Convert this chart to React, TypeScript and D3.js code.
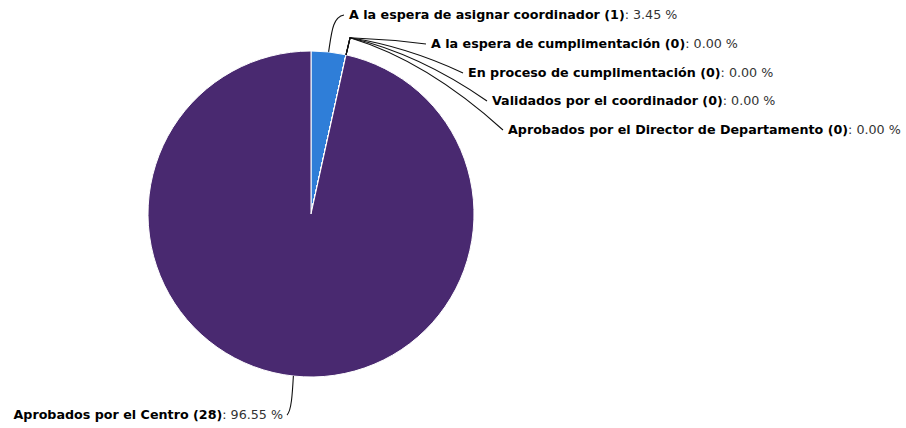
import React from "react";
import * as d3 from "d3";

const categories = [
  "A la espera de asignar coordinador",
  "A la espera de cumplimentación",
  "En proceso de cumplimentación",
  "Validados por el coordinador",
  "Aprobados por el Director de Departamento",
  "Aprobados por el Centro",
];
const counts = [1, 0, 0, 0, 0, 28];
const colors = ["#2f7ed8", "#0d233a", "#8bbc21", "#910000", "#1aadce", "#492970"];

// label layout (text anchor points)
const labelLayout = [
  { x: 349, y: 15, anchor: "start" },
  { x: 431, y: 44, anchor: "start" },
  { x: 468, y: 73, anchor: "start" },
  { x: 492, y: 101, anchor: "start" },
  { x: 508, y: 130, anchor: "start" },
  { x: 283, y: 415, anchor: "end" },
];

const W = 906;
const H = 428;
const cx = 311;
const cy = 214;
const R = 163;

export default function App() {
  const total = d3.sum(counts);
  const data = categories.map((c, i) => ({ name: c, value: counts[i], color: colors[i], i }));
  const pie = d3.pie<any>().value((d) => d.value).sort(null);
  const arcs = pie(data);
  const arc = d3.arc<any>().innerRadius(0).outerRadius(R);
  const font = "'DejaVu Sans', Verdana, sans-serif";

  const connectors = arcs.map((a, i) => {
    const mid = (a.startAngle + a.endAngle) / 2;
    const ex = cx + R * Math.sin(mid);
    const ey = cy - R * Math.cos(mid);
    const L = labelLayout[i];
    const p = d3.path();
    if (L.anchor === "end") {
      const tx = L.x + 4;
      const ty = L.y;
      p.moveTo(ex, ey);
      p.bezierCurveTo(ex - 1, ey + 18, ex - 2, ty - 4, tx, ty);
    } else if (a.value > 0) {
      const tx = L.x - 5;
      const ty = L.y;
      p.moveTo(ex, ey);
      p.bezierCurveTo(ex + 3, ey - 20, ex + 4, ty + 2, tx, ty);
    } else {
      const hx = ex + 4;
      const hy = ey - 17;
      const tx = L.x - 5;
      const ty = L.y;
      p.moveTo(ex, ey);
      p.lineTo(hx, hy);
      p.quadraticCurveTo(hx + 0.5 * (tx - hx), hy + 0.25 * (ty - hy), tx, ty);
    }
    return p.toString();
  });

  return (
    <svg width={W} height={H} style={{ position: "absolute", left: 0, top: 0, background: "#fff" }}>
      <rect x={0} y={0} width={W} height={H} fill="#fff" />
      <g>
        {arcs.map((a, i) => (
          <path
            key={i}
            d={arc(a) as string}
            transform={`translate(${cx},${cy})`}
            fill={a.data.color}
            stroke="#ffffff"
            strokeWidth={1}
            strokeLinejoin="round"
          />
        ))}
      </g>
      <g fill="none" stroke="#111" strokeWidth={1.1}>
        {connectors.map((d, i) => (
          <path key={i} d={d} />
        ))}
      </g>
      <g fontFamily={font} fontSize={12.7}>
        {data.map((d, i) => {
          const L = labelLayout[i];
          return (
            <text key={i} x={L.x} y={L.y} dy="0.35em" textAnchor={L.anchor as any} fill="#000">
              <tspan fontWeight="bold">{`${d.name} (${d.value})`}</tspan>
              <tspan fill="#333">{`: ${((d.value / total) * 100).toFixed(2)} %`}</tspan>
            </text>
          );
        })}
      </g>
    </svg>
  );
}
